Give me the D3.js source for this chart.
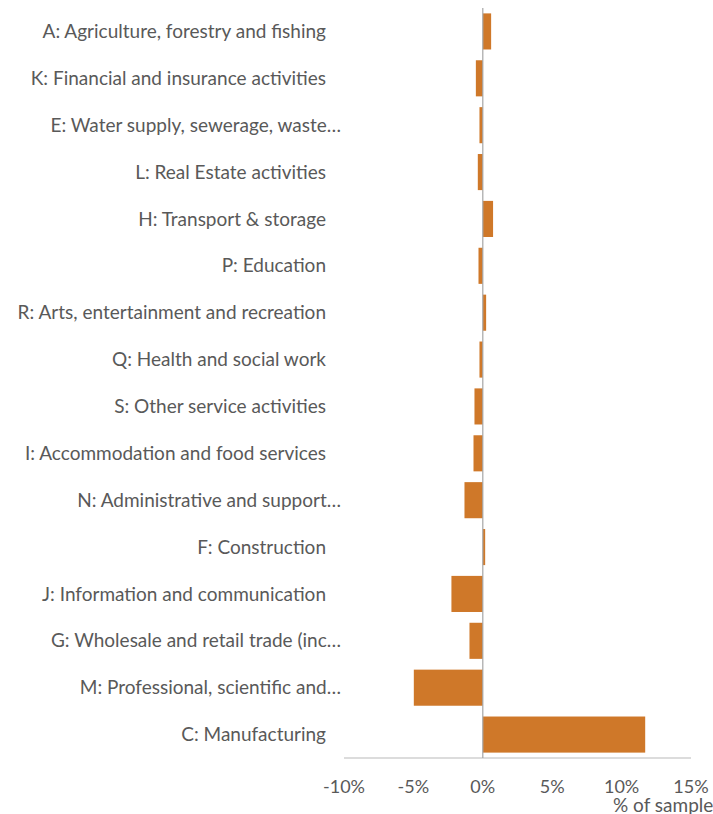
<!DOCTYPE html>
<html>
<head>
<meta charset="utf-8">
<script src="https://cdn.jsdelivr.net/npm/d3@7"></script>
<style>
    body { margin: 0; background: #fff; overflow: hidden; }
    text { font-family: Lato, "Open Sans", sans-serif; }
</style>
</head>
<body>
<script>
// categories, top to bottom
const categories = [
    "A: Agriculture, forestry and fishing",
    "K: Financial and insurance activities",
    "E: Water supply, sewerage, waste…",
    "L: Real Estate activities",
    "H: Transport & storage",
    "P: Education",
    "R: Arts, entertainment and recreation",
    "Q: Health and social work",
    "S: Other service activities",
    "I: Accommodation and food services",
    "N: Administrative and support…",
    "F: Construction",
    "J: Information and communication",
    "G: Wholesale and retail trade (inc…",
    "M: Professional, scientific and…",
    "C: Manufacturing",
];
// difference, % of sample
const values = [0.6, -0.5, -0.24, -0.36, 0.74, -0.31, 0.24, -0.24, -0.6, -0.67, -1.32, 0.17, -2.26, -0.96, -4.97, 11.7];
const tickValues = [-10, -5, 0, 5, 10, 15];
const axisTitle = "% of sample";

const width = 713;
const height = 814;

const svg = d3.select("body").append("svg").attr("width", width).attr("height", height);

// plot area
const plotLeft = 344, plotRight = 691, plotTop = 8, plotBottom = 758;

const x = d3.scaleLinear().domain([-10, 15]).range([plotLeft, plotRight]);
const y = d3.scaleBand().domain(categories).range([plotTop, plotBottom]).paddingInner(0.23).paddingOuter(0.115);

// bars
svg.append("g")
    .selectAll("rect")
    .data(values)
    .enter()
    .append("rect")
    .attr("x", (d) => x(Math.min(0, d)))
    .attr("y", (d, i) => y(categories[i]))
    .attr("width", (d) => Math.abs(x(d) - x(0)))
    .attr("height", y.bandwidth())
    .attr("fill", "#CF7829");

// bottom axis line
svg.append("line")
    .attr("x1", plotLeft).attr("x2", plotRight)
    .attr("y1", plotBottom).attr("y2", plotBottom)
    .attr("stroke", "#D0D0D0").attr("stroke-width", 1.5);

// zero line
svg.append("line")
    .attr("x1", x(0)).attr("x2", x(0))
    .attr("y1", plotTop).attr("y2", plotBottom)
    .attr("stroke", "#A6A6A6").attr("stroke-width", 1.2);

// tick labels
svg.append("g")
    .selectAll("text")
    .data(tickValues)
    .enter()
    .append("text")
    .attr("x", (d) => x(d))
    .attr("y", 793)
    .attr("text-anchor", "middle")
    .attr("font-size", 18)
    .attr("fill", "#595959")
    .text((d) => d + "%");

// axis title (runs off the right edge, as in the original)
svg.append("text")
    .attr("x", 613)
    .attr("y", 812)
    .attr("font-size", 19)
    .attr("fill", "#595959")
    .text(axisTitle);

// category labels
svg.append("g")
    .selectAll("text")
    .data(categories)
    .enter()
    .append("text")
    .attr("x", (d) => (d.endsWith("…") ? 341 : 326))
    .attr("y", (d) => y(d) + y.bandwidth() / 2)
    .attr("dy", "0.35em")
    .attr("text-anchor", "end")
    .attr("font-size", 19)
    .attr("fill", "#595959")
    .text((d) => d);
</script>
</body>
</html>
